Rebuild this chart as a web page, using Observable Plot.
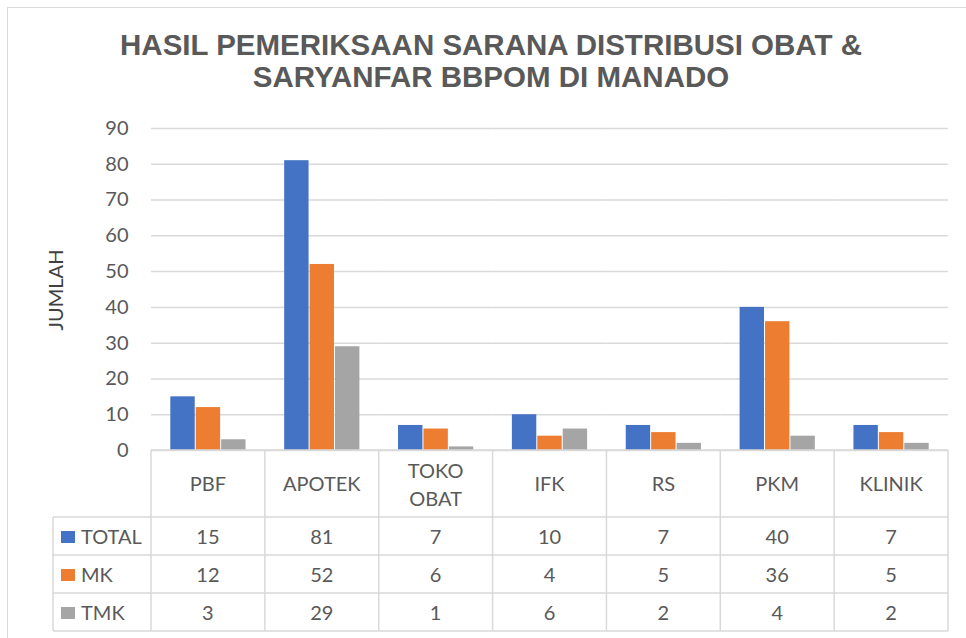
<!DOCTYPE html>
<html>
<head>
<meta charset="utf-8">
<script src="https://cdn.jsdelivr.net/npm/d3@7"></script>
<script src="https://cdn.jsdelivr.net/npm/@observablehq/plot@0.6"></script>
<style>
  html, body { margin: 0; padding: 0; background: #fff; }
  #wrap { position: relative; width: 966px; height: 638px; overflow: hidden; background: #fff; }
  #frame { position: absolute; left: 7px; top: 7px; width: 980px; height: 660px; border: 1.5px solid #D9D9D9; box-sizing: border-box; }
  #chart { position: absolute; left: 0; top: 0; }
</style>
</head>
<body>
<div id="wrap"><div id="frame"></div><div id="chart"></div></div>
<script>
const titleLines = ["HASIL PEMERIKSAAN SARANA DISTRIBUSI OBAT &", "SARYANFAR BBPOM DI MANADO"];
const yLabel = "JUMLAH";
const categories = ["PBF", "APOTEK", "TOKO OBAT", "IFK", "RS", "PKM", "KLINIK"];
const categoryLines = [["PBF"], ["APOTEK"], ["TOKO", "OBAT"], ["IFK"], ["RS"], ["PKM"], ["KLINIK"]];
const series = ["TOTAL", "MK", "TMK"];
const totalValues = [15, 81, 7, 10, 7, 40, 7];
const mkValues = [12, 52, 6, 4, 5, 36, 5];
const tmkValues = [3, 29, 1, 6, 2, 4, 2];
const seriesColors = ["#4472C4", "#ED7D31", "#A5A5A5"];
const yTicks = [0, 10, 20, 30, 40, 50, 60, 70, 80, 90];

const valuesBySeries = [totalValues, mkValues, tmkValues];
const rows = [];
categories.forEach((c, i) => series.forEach((s, j) => rows.push({category: c, series: s, value: valuesBySeries[j][i]})));

const FONT = "Lato, 'Open Sans', sans-serif";
const GRID = "#D9D9D9";
const TXT = "#595959";

const chart = Plot.plot({
  width: 966,
  height: 638,
  marginTop: 128,
  marginBottom: 188,
  marginLeft: 151,
  marginRight: 18,
  style: {fontFamily: FONT, fontSize: "20px", color: TXT, background: "transparent"},
  fx: {domain: categories, padding: 0, round: false, axis: null, label: null},
  x: {domain: series, paddingInner: 0.04, paddingOuter: 0.76, round: false, axis: null},
  y: {domain: [0, 90], ticks: yTicks, tickSize: 0, tickPadding: 23, label: null},
  color: {domain: series, range: seriesColors},
  marks: [
    Plot.ruleY(yTicks, {stroke: GRID, strokeWidth: 1.5}),
    Plot.barY(rows, {fx: "category", x: "series", y: "value", fill: "series", inset: 0})
  ]
});
document.getElementById("chart").appendChild(chart);

const svg = d3.select(chart);
const fx = chart.scale("fx");
const ys = chart.scale("y");
const bw = fx.bandwidth;
const y0 = ys.apply(0);
const xLeft = fx.apply(categories[0]);
const xRight = fx.apply(categories[categories.length - 1]) + bw;
const tableLeft = 53;
const headH = 67, rowH = 38;

// title
const tg = svg.append("g").attr("font-family", "'Liberation Sans', Arial, sans-serif")
  .attr("font-weight", "bold").attr("font-size", 29.5).attr("fill", TXT).attr("text-anchor", "middle");
titleLines.forEach((t, i) => tg.append("text").attr("x", 491).attr("y", 55 + i * 32).text(t));

// y label
svg.append("text").attr("transform", `translate(63,290) rotate(-90)`)
  .attr("text-anchor", "middle").attr("font-family", FONT).attr("font-size", 20)
  .attr("fill", "#404040").text(yLabel);

// table lines
const lg = svg.append("g").attr("stroke", GRID).attr("stroke-width", 1.5);
lg.append("line").attr("x1", xLeft).attr("x2", xRight).attr("y1", y0).attr("y2", y0);
for (let r = 0; r <= series.length; r++) {
  const yy = y0 + headH + r * rowH;
  lg.append("line").attr("x1", tableLeft).attr("x2", xRight).attr("y1", yy).attr("y2", yy);
}
const yBottom = y0 + headH + series.length * rowH;
categories.forEach(c => {
  const x = fx.apply(c);
  lg.append("line").attr("x1", x).attr("x2", x).attr("y1", y0).attr("y2", yBottom);
});
lg.append("line").attr("x1", xRight).attr("x2", xRight).attr("y1", y0).attr("y2", yBottom);
lg.append("line").attr("x1", tableLeft).attr("x2", tableLeft).attr("y1", y0 + headH).attr("y2", yBottom);

// table text
const txt = svg.append("g").attr("font-family", FONT).attr("font-size", 20).attr("fill", TXT);
categories.forEach((c, i) => {
  const cx = fx.apply(c) + bw / 2;
  const lines = categoryLines[i];
  const base = lines.length === 1 ? y0 + 40.5 : y0 + 27.5;
  lines.forEach((l, k) => txt.append("text").attr("x", cx).attr("y", base + k * 28).attr("text-anchor", "middle").text(l));
  series.forEach((s, j) => {
    txt.append("text").attr("x", cx).attr("y", y0 + headH + j * rowH + 26.5)
      .attr("text-anchor", "middle").text(valuesBySeries[j][i]);
  });
});
series.forEach((s, j) => {
  const yy = y0 + headH + j * rowH;
  svg.append("rect").attr("x", 61).attr("y", yy + 14).attr("width", 14).attr("height", 12).attr("fill", seriesColors[j]);
  txt.append("text").attr("x", 81).attr("y", yy + 26.5).attr("text-anchor", "start").text(s);
});
</script>
</body>
</html>
